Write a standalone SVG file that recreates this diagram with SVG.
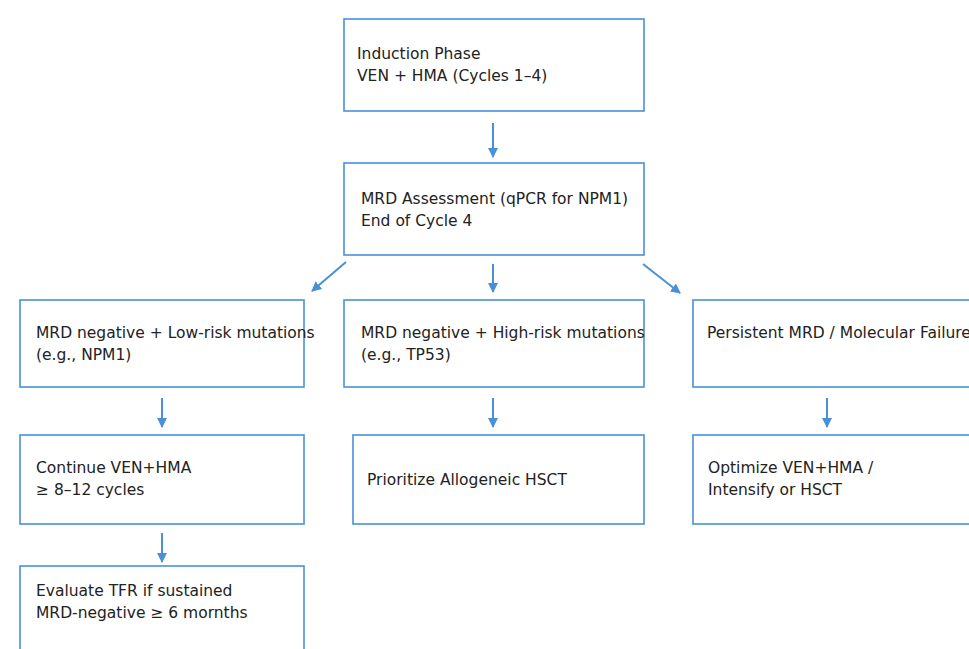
<svg xmlns="http://www.w3.org/2000/svg" width="969" height="649" viewBox="0 0 969 649">
<style>
.box{fill:#fff;stroke:#4a90d9;stroke-width:1.6}
.t{font-family:"DejaVu Sans",sans-serif;font-size:15.5px;fill:#222}
.c{stroke:#4a90d9;stroke-width:2;fill:none;marker-end:url(#ah)}
</style>
<defs>
<marker id="ah" viewBox="0 0 10 10" refX="9" refY="5" markerWidth="5" markerHeight="5" orient="auto" markerUnits="strokeWidth">
<path d="M0,0 L10,5 L0,10 z" fill="#4a90d9"/>
</marker>
</defs>
<rect width="969" height="649" fill="#fff"/>
<g id="connectors">
<line class="c" x1="493" y1="123" x2="493" y2="157"/>
<line class="c" x1="493" y1="264" x2="493" y2="292"/>
<line class="c" x1="346" y1="262" x2="312" y2="291"/>
<line class="c" x1="643" y1="264" x2="680" y2="293"/>
<line class="c" x1="162" y1="398" x2="162" y2="427"/>
<line class="c" x1="493" y1="398" x2="493" y2="427"/>
<line class="c" x1="827" y1="398" x2="827" y2="427"/>
<line class="c" x1="162" y1="533" x2="162" y2="562"/>
</g>
<g id="induction">
<rect class="box" x="344" y="19" width="300" height="92"/>
<text class="t" x="357" y="59">Induction Phase</text>
<text class="t" x="357" y="81">VEN + HMA (Cycles 1–4)</text>
</g>
<g id="mrd">
<rect class="box" x="344" y="163" width="300" height="92"/>
<text class="t" x="361" y="204">MRD Assessment (qPCR for NPM1)</text>
<text class="t" x="361" y="226">End of Cycle 4</text>
</g>
<g id="lowrisk">
<rect class="box" x="20" y="300" width="284" height="87"/>
<text class="t" x="36" y="338">MRD negative + Low-risk mutations</text>
<text class="t" x="36" y="360">(e.g., NPM1)</text>
</g>
<g id="highrisk">
<rect class="box" x="344" y="300" width="300" height="87"/>
<text class="t" x="361" y="338">MRD negative + High-risk mutations</text>
<text class="t" x="361" y="360">(e.g., TP53)</text>
</g>
<g id="persistent">
<rect class="box" x="693" y="300" width="290" height="87"/>
<text class="t" x="707" y="338">Persistent MRD / Molecular Failure</text>
</g>
<g id="continue">
<rect class="box" x="20" y="435" width="284" height="89"/>
<text class="t" x="36" y="473">Continue VEN+HMA</text>
<text class="t" x="36" y="495">≥ 8–12 cycles</text>
</g>
<g id="hsct">
<rect class="box" x="353" y="435" width="291" height="89"/>
<text class="t" x="367" y="485">Prioritize Allogeneic HSCT</text>
</g>
<g id="optimize">
<rect class="box" x="693" y="435" width="290" height="89"/>
<text class="t" x="708" y="473">Optimize VEN+HMA /</text>
<text class="t" x="708" y="495">Intensify or HSCT</text>
</g>
<g id="tfr">
<rect class="box" x="20" y="566" width="284" height="100"/>
<text class="t" x="36" y="596">Evaluate TFR if sustained</text>
<text class="t" x="36" y="618">MRD-negative ≥ 6 mornths</text>
</g>
</svg>
